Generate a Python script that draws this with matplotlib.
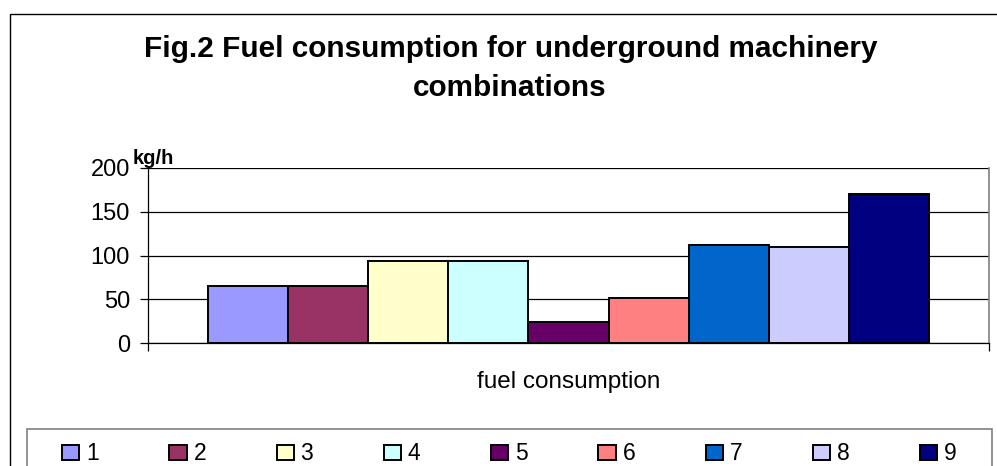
import matplotlib
matplotlib.use("Agg")
import matplotlib.pyplot as plt
from matplotlib.patches import Rectangle

plt.rcParams['font.family'] = ['Liberation Sans', 'DejaVu Sans']

series = ["1", "2", "3", "4", "5", "6", "7", "8", "9"]
values = [65, 65, 94, 94, 24, 52, 112, 110, 170]
colors = ["#9999FF", "#993366", "#FFFFCC", "#CCFFFF", "#660066",
          "#FF8080", "#0066CC", "#CCCCFF", "#000080"]
yticks = [0, 50, 100, 150, 200]
category = "fuel consumption"
title_lines = ["Fig.2 Fuel consumption for underground machinery", "combinations"]
unit = "kg/h"

W, H = 997, 466
fig = plt.figure(figsize=(W / 100, H / 100), dpi=100)

# chart border
fig.patches.append(Rectangle((9.5 / W, -0.1), 1.2, 1 - 13.5 / H + 0.1,
                             transform=fig.transFigure, fill=False,
                             edgecolor="black", linewidth=1.0))
# legend frame
fig.patches.append(Rectangle((27 / W, -0.1), (992 - 27) / W, 1 - 429 / H + 0.1,
                             transform=fig.transFigure, fill=False,
                             edgecolor="#808080", linewidth=1.2))

ax = fig.add_axes([148 / W, 1 - 343 / H, (989 - 148) / W, (343 - 168) / H])
n = len(series)
handles = []
for i, (s, v, c) in enumerate(zip(series, values, colors)):
    b = ax.bar(i - (n - 1) / 2, v, width=1.0, color=c, edgecolor="black",
               linewidth=1.4, label=s, zorder=3)
    handles.append(b)

ax.set_xlim(-(n - 1) / 2 - 1.25, (n - 1) / 2 + 1.25)
ax.set_ylim(0, 200)
ax.set_yticks(yticks)
ax.set_yticklabels([str(t) for t in yticks], fontsize=17)
ax.yaxis.grid(True, color="black", linewidth=0.9, zorder=0)
ax.set_axisbelow(True)
ax.set_xticks([ax.get_xlim()[0], ax.get_xlim()[1]])
ax.set_xticklabels(["", ""])
ax.tick_params(axis="both", direction="out", length=6, width=0.9, color="black")
ax.tick_params(axis="y", pad=7)
ax.spines["top"].set_visible(False)
ax.spines["right"].set_color("#808080")
ax.spines["right"].set_linewidth(1.2)
ax.spines["left"].set_linewidth(0.9)
ax.spines["bottom"].set_linewidth(0.9)
ax.set_xlabel(category, fontsize=17.5, labelpad=11)

fig.text(133 / W, 1 - 164 / H, unit, fontsize=14.5, fontweight="bold",
         ha="left", va="baseline")

fig.text(511 / W, 1 - 57.3 / H, title_lines[0], fontsize=21.4, fontweight="bold",
         ha="center", va="baseline")
fig.text(510 / W, 1 - 95.7 / H, title_lines[1], fontsize=21.4, fontweight="bold",
         ha="center", va="baseline")

leg = fig.legend(handles=handles, labels=series, loc="upper left",
                 bbox_to_anchor=(62 / W, 1 - 442.5 / H, (957 - 62) / W, 0.0),
                 mode="expand", ncol=n, fontsize=16.5, frameon=False,
                 handlelength=0.75, handleheight=0.68, handletextpad=0.3,
                 borderpad=0.0, borderaxespad=0.0)

fig.savefig("out.png", dpi=100)
